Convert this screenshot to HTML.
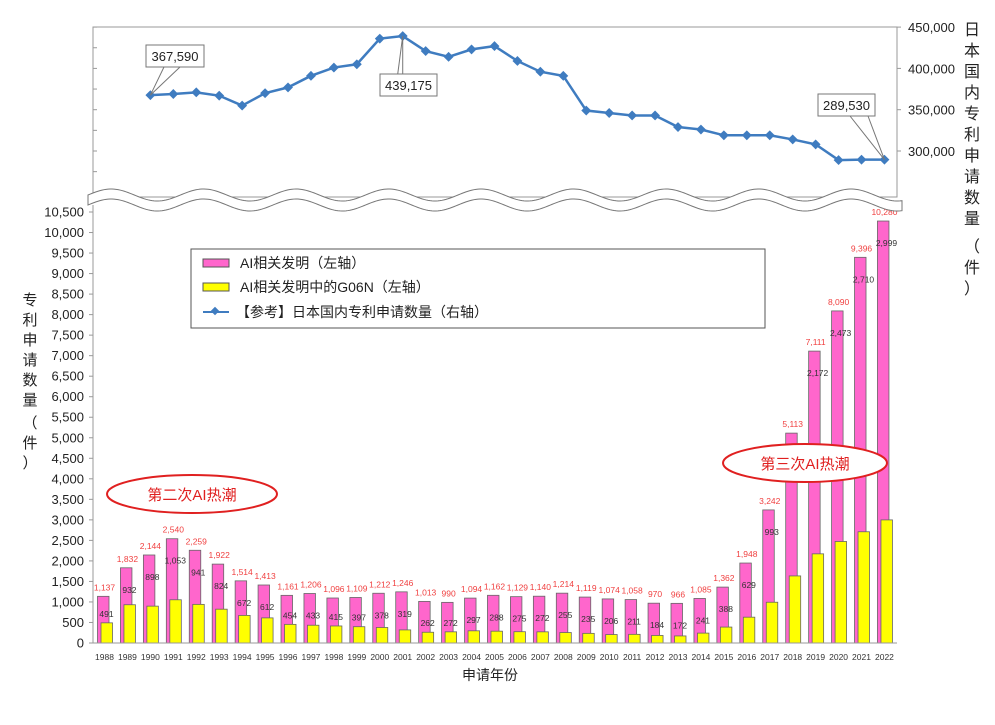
<!DOCTYPE html>
<html><head><meta charset="utf-8"><style>
body{margin:0;background:#fff;width:995px;height:720px;overflow:hidden}
svg{font-family:"Liberation Sans","Noto Sans CJK SC",sans-serif}
</style></head><body>
<svg id="c" width="995" height="720">
<rect x="93" y="27" width="804" height="170" fill="none" stroke="#999"/>
<g id="topG"></g>
<g id="bars"></g>
<g id="axes"></g>
<path d="" id="wave" fill="#fff" stroke="#777"/>
<g>
<rect x="191" y="249" width="574" height="79" fill="#fff" stroke="#555"/>
<rect x="203" y="259" width="26" height="8" fill="#ff66cc" stroke="#555"/>
<text x="240" y="268" font-size="14" fill="#222">AI相关发明（左轴）</text>
<rect x="203" y="283" width="26" height="8" fill="#ffff00" stroke="#555"/>
<text x="240" y="292" font-size="14" fill="#222">AI相关发明中的G06N（左轴）</text>
<line x1="203" y1="312" x2="229" y2="312" stroke="#3f7cc0" stroke-width="2"/>
<rect x="212" y="308" width="6" height="6" fill="#3f7cc0" transform="rotate(45 215 311)"/>
<text x="236" y="317" font-size="14" fill="#222">【参考】日本国内专利申请数量（右轴）</text>
</g>
<g>
<ellipse cx="192" cy="494" rx="85" ry="19" fill="#fff" stroke="#e02020" stroke-width="2"/>
<text x="192" y="500" font-size="15" fill="#e02020" text-anchor="middle">第二次AI热潮</text></g>
<g>
<ellipse cx="805" cy="463" rx="82" ry="19" fill="#fff" stroke="#e02020" stroke-width="2"/>
<text x="805" y="469" font-size="15" fill="#e02020" text-anchor="middle">第三次AI热潮</text></g>
<text font-size="15" fill="#222" text-anchor="middle">
<tspan x="30" y="305">专</tspan><tspan x="30" y="325">利</tspan><tspan x="30" y="345">申</tspan><tspan x="30" y="365">请</tspan><tspan x="30" y="385">数</tspan><tspan x="30" y="405">量</tspan><tspan x="30" y="428">（</tspan><tspan x="30" y="448">件</tspan><tspan x="30" y="468">）</tspan></text>
<text font-size="16" fill="#222" text-anchor="middle">
<tspan x="972" y="35">日</tspan><tspan x="972" y="56">本</tspan><tspan x="972" y="77">国</tspan><tspan x="972" y="98">内</tspan><tspan x="972" y="119">专</tspan><tspan x="972" y="140">利</tspan><tspan x="972" y="161">申</tspan><tspan x="972" y="182">请</tspan><tspan x="972" y="203">数</tspan><tspan x="972" y="224">量</tspan><tspan x="972" y="252">（</tspan><tspan x="972" y="273">件</tspan><tspan x="972" y="294">）</tspan></text>
<text x="490" y="680" font-size="14" fill="#222" text-anchor="middle">申请年份</text>
</svg>
<script>
const years=[1988,1989,1990,1991,1992,1993,1994,1995,1996,1997,1998,1999,2000,2001,2002,2003,2004,2005,2006,2007,2008,2009,2010,2011,2012,2013,2014,2015,2016,2017,2018,2019,2020,2021,2022];
const aiValues=[1137,1832,2144,2540,2259,1922,1514,1413,1161,1206,1096,1109,1212,1246,1013,990,1094,1162,1129,1140,1214,1119,1074,1058,970,966,1085,1362,1948,3242,5113,7111,8090,9396,10280];
const g06nValues=[491,932,898,1053,941,824,672,612,454,433,415,397,378,319,262,272,297,288,275,272,255,235,206,211,184,172,241,388,629,993,1634,2172,2473,2710,2999];
const lineYears=[1990,1991,1992,1993,1994,1995,1996,1997,1998,1999,2000,2001,2002,2003,2004,2005,2006,2007,2008,2009,2010,2011,2012,2013,2014,2015,2016,2017,2018,2019,2020,2021,2022];
const patentValues=[367590,369000,371000,367000,355000,370000,377000,391000,401000,405000,436000,439175,421000,414000,423000,427000,409000,396000,391000,349000,346000,343000,343000,329000,326000,319000,319000,319000,314000,308000,289000,289500,289530];
const leftTicks=[0,500,1000,1500,2000,2500,3000,3500,4000,4500,5000,5500,6000,6500,7000,7500,8000,8500,9000,9500,10000,10500];
const rightTicks=[300000,350000,400000,450000];
const NS='http://www.w3.org/2000/svg';
const svgEl=document.getElementById('c');
function x(yr){return 104.5+(yr-1988)*22.94;}
function yL(v){return 643-v*(431/10500);}
function yR(v){return 151-(v-300000)*(41.3/50000);}
function mk(tag,attrs,parent,text){const e=document.createElementNS(NS,tag);for(const k in attrs)e.setAttribute(k,attrs[k]);if(text!==undefined)e.textContent=text;(parent||svgEl).appendChild(e);return e;}
const fmt=v=>v.toLocaleString('en-US');
const barsG=document.getElementById('bars'),axesG=document.getElementById('axes'),topG=document.getElementById('topG');
years.forEach((yr,i)=>{
 const cx=x(yr);
 let p=mk('rect',{x:cx-7,y:yL(aiValues[i]),width:11.5,height:643-yL(aiValues[i]),fill:'#ff66cc',stroke:'#666','stroke-width':0.8},barsG);
 
 
 let q=mk('rect',{x:cx-3.5,y:yL(g06nValues[i]),width:11.5,height:643-yL(g06nValues[i]),fill:'#ffff00',stroke:'#666','stroke-width':0.8},barsG);
 
 
 let t=mk('text',{x:cx,y:yL(aiValues[i])-6,'font-size':8.5,fill:'#f04040','text-anchor':'middle'},barsG,fmt(aiValues[i]));
 
 
 let u=mk('text',{x:cx+2,y:Math.min(yL(g06nValues[i])-6,yL(aiValues[i])+25),'font-size':8.5,fill:'#333','text-anchor':'middle'},barsG,fmt(g06nValues[i]));
 
 
 let yl=mk('text',{x:cx,y:660,'font-size':8.5,fill:'#333','text-anchor':'middle'},axesG,String(yr));
 
 
});
mk('line',{x1:93,y1:643,x2:897,y2:643,stroke:'#999'},axesG);
mk('line',{x1:93,y1:205,x2:93,y2:643,stroke:'#999'},axesG);
leftTicks.forEach(v=>{
 mk('line',{x1:89,y1:yL(v),x2:93,y2:yL(v),stroke:'#999'},axesG);
 let t=mk('text',{x:84,y:yL(v)+4.5,'font-size':13,fill:'#222','text-anchor':'end'},axesG,fmt(v));
 
 
});
for(let v=275000;v<=450000;v+=25000){mk('line',{x1:93,y1:yR(v),x2:97,y2:yR(v),stroke:'#999'},topG);}
rightTicks.forEach(v=>{
 mk('line',{x1:897,y1:yR(v),x2:901,y2:yR(v),stroke:'#999'},topG);
 let t=mk('text',{x:955,y:yR(v)+5,'font-size':13,fill:'#222','text-anchor':'end'},topG,fmt(v));
 
 
});
const pts=lineYears.map((yr,i)=>[x(yr),yR(patentValues[i])]);
let pl=mk('polyline',{points:pts.map(p=>p.join(',')).join(' '),fill:'none',stroke:'#3f7cc0','stroke-width':2.5},topG);


pts.forEach(p=>{let m=mk('rect',{x:p[0]-3.5,y:p[1]-3.5,width:7,height:7,fill:'#3f7cc0',transform:`rotate(45 ${p[0]} ${p[1]})`},topG);
 
 });
function labelText(px,py,i){
 let t=mk('text',{x:px,y:py,'font-size':13,fill:'#222','text-anchor':'middle'},topG,fmt(patentValues[i]));
 
 
}
{const p=pts[0];mk('path',{d:`M164,67 L${p[0]},${p[1]} L180,67`,fill:'#fff',stroke:'#777'},topG);mk('rect',{x:146,y:45,width:58,height:22,fill:'#fff',stroke:'#777'},topG);labelText(175,61,0);}
{const p=pts[11];mk('path',{d:`M${p[0]-5},74 L${p[0]},${p[1]} L${p[0]},74`,fill:'none',stroke:'#777'},topG);mk('rect',{x:380,y:74,width:57,height:22,fill:'#fff',stroke:'#777'},topG);labelText(408.5,90,11);}
{const p=pts[32];mk('path',{d:`M850,116 L${p[0]},${p[1]} L868,116`,fill:'#fff',stroke:'#777'},topG);mk('rect',{x:818,y:94,width:57,height:22,fill:'#fff',stroke:'#777'},topG);labelText(846.5,110,32);}
let d='M88,195';for(let xx=88;xx<=902;xx+=2)d+=` L${xx},${195-6*Math.sin((xx-88)/92.5*2*Math.PI)}`;
for(let xx=902;xx>=88;xx-=2)d+=` L${xx},${205-6*Math.sin((xx-88)/92.5*2*Math.PI)}`;d+='Z';
document.getElementById('wave').setAttribute('d',d);
</script>
</body></html>
